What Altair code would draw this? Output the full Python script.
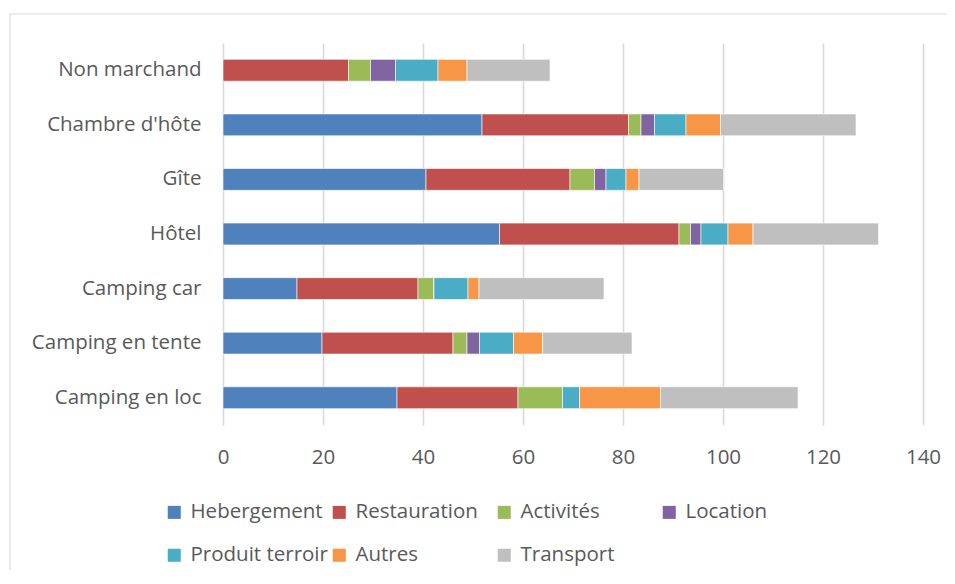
import altair as alt
import pandas as pd

categories = ["Non marchand", "Chambre d'hôte", "Gîte", "Hôtel", "Camping car",
              "Camping en tente", "Camping en loc"]
series = ["Hebergement", "Restauration", "Activités", "Location",
          "Produit terroir", "Autres", "Transport"]
colors = ["#4F81BD", "#C0504D", "#9BBB59", "#8064A2", "#4BACC6", "#F79646", "#BFBFBF"]

hebergement = [0.0, 51.8, 40.6, 55.3, 14.8, 19.8, 34.8]
restauration = [25.1, 29.3, 28.8, 35.9, 24.2, 26.2, 24.2]
activites = [4.4, 2.5, 4.9, 2.3, 3.2, 2.8, 8.9]
location = [5.0, 2.7, 2.3, 2.1, 0.0, 2.5, 0.0]
produit_terroir = [8.5, 6.3, 4.0, 5.4, 6.8, 6.8, 3.4]
autres = [5.8, 6.9, 2.6, 5.0, 2.2, 5.8, 16.2]
transport = [16.6, 27.1, 16.9, 25.1, 25.0, 17.9, 27.5]

x_ticks = [0, 20, 40, 60, 80, 100, 120, 140]

values = [hebergement, restauration, activites, location, produit_terroir, autres, transport]
rows = []
for si, (s, vals) in enumerate(zip(series, values)):
    for c, v in zip(categories, vals):
        rows.append({"Catégorie": c, "Poste": s, "Valeur": v, "ordre": si})
df = pd.DataFrame(rows)

FONT = "Open Sans"
TXT = "#595959"
FS = 20.5

bars = alt.Chart(df).mark_bar(stroke="white", strokeWidth=0.6).encode(
    y=alt.Y("Catégorie:N", sort=categories, title=None,
            scale=alt.Scale(paddingInner=0.6, paddingOuter=0.3),
            axis=alt.Axis(ticks=False, domain=False, labelPadding=22,
                          labelFontSize=FS, labelColor=TXT, labelFont=FONT, grid=False)),
    x=alt.X("Valeur:Q", stack="zero", title=None,
            scale=alt.Scale(domain=[0, 140], nice=False),
            axis=alt.Axis(values=x_ticks, ticks=False, domain=False, labelPadding=22,
                          labelFlush=False,
                          labelFontSize=FS, labelColor=TXT, labelFont=FONT,
                          grid=True, gridColor="#D9D9D9", gridWidth=1.6)),
    color=alt.Color("Poste:N", sort=series,
                    scale=alt.Scale(domain=series, range=colors),
                    legend=alt.Legend(title=None, orient="none", legendX=-59, legendY=459,
                                      direction="horizontal", columns=4, gridAlign="all",
                                      symbolType="square", symbolSize=170, symbolStrokeWidth=0,
                                      labelFontSize=FS, labelFont=FONT, labelColor=TXT,
                                      columnPadding=1, rowPadding=22, labelOffset=6,
                                      labelLimit=300)),
    order=alt.Order("ordre:Q", sort="ascending"),
)

border = alt.Chart(pd.DataFrame({"a": [0]})).mark_rect(
    fill=None, stroke="#D9D9D9", strokeWidth=1.2, clip=False
).encode(x=alt.value(-213), x2=alt.value(800), y=alt.value(-29), y2=alt.value(700))

chart = alt.layer(border, bars).properties(
    width=700, height=382,
    padding={"left": 215, "top": 35, "right": 24, "bottom": 145},
    autosize=alt.AutoSizeParams(type="none"),
).configure_view(stroke=None)

chart.save("out.html", embed_options={"renderer": "svg", "actions": False})
